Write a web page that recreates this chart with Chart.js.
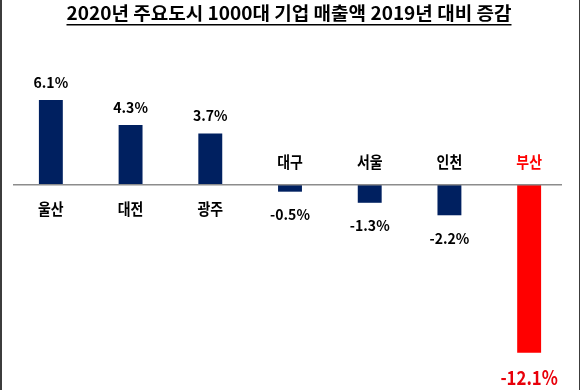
<!DOCTYPE html>
<html>
<head>
<meta charset="utf-8">
<script src="https://cdn.jsdelivr.net/npm/chart.js@4.4.0/dist/chart.umd.min.js"></script>
<style>
html,body{margin:0;padding:0;background:#fff;}
#wrap{width:580px;height:390px;position:relative;}
</style>
</head>
<body>
<div id="wrap"><canvas id="c" width="580" height="390"></canvas></div>
<script>
const titleText = '2020년 주요도시 1000대 기업 매출액 2019년 대비 증감';
const categories = ['울산','대전','광주','대구','서울','인천','부산'];
const values = [6.1, 4.3, 3.7, -0.5, -1.3, -2.2, -12.1];
const valueLabels = ['6.1%','4.3%','3.7%','-0.5%','-1.3%','-2.2%','-12.1%'];
const highlight = '부산';

const NAVY = '#002060';
const RED = '#ff0000';
const FONT = "'Noto Sans CJK KR', 'Noto Sans', sans-serif";

function drawText(ctx, text, x, y, size, color, sx) {
  ctx.save();
  ctx.font = 'bold ' + size + 'px ' + FONT;
  ctx.fillStyle = color;
  ctx.textAlign = 'center';
  ctx.textBaseline = 'middle';
  ctx.translate(x, y);
  ctx.scale(sx, 1);
  ctx.fillText(text, 0, 0);
  ctx.restore();
}

const decor = {
  id: 'decor',
  afterDatasetsDraw(chart) {
    const ctx = chart.ctx;
    const ys = chart.scales.y;
    const zero = ys.getPixelForValue(0);
    // baseline
    ctx.save();
    ctx.strokeStyle = '#8c8c8c';
    ctx.lineWidth = 1.5;
    ctx.beginPath();
    ctx.moveTo(13, zero);
    ctx.lineTo(562, zero);
    ctx.stroke();
    ctx.restore();
    // labels
    const meta = chart.getDatasetMeta(0);
    categories.forEach((cat, i) => {
      const v = values[i];
      const bar = meta.data[i];
      const x = bar.x;
      const isHi = cat === highlight;
      if (v >= 0) {
        drawText(ctx, valueLabels[i], x, bar.y - 17.5, 14.5, '#000', 0.97);
        drawText(ctx, cat, x, zero + 24, 16, '#000', 0.87);
      } else {
        drawText(ctx, cat, x, zero - 23, 16, isHi ? RED : '#000', 0.87);
        if (isHi) drawText(ctx, valueLabels[i], x, bar.y + 25, 19.5, '#e8000a', 0.86);
        else drawText(ctx, valueLabels[i], x, bar.y + 23, 14.5, '#000', 0.97);
      }
    });
    // title
    ctx.save();
    ctx.font = 'bold 18px ' + FONT;
    const w = ctx.measureText(titleText).width;
    const target = 445;
    const sx = target / w;
    ctx.fillStyle = '#000';
    ctx.textAlign = 'center';
    ctx.textBaseline = 'alphabetic';
    ctx.translate(289, 19.5);
    ctx.scale(sx, 1);
    ctx.fillText(titleText, 0, 0);
    ctx.restore();
    ctx.save();
    ctx.fillStyle = '#000';
    ctx.fillRect(66.5, 24, 445, 1.5);
    ctx.restore();
    // frame
    ctx.save();
    ctx.fillStyle = '#3c3c3c';
    ctx.fillRect(0, 0, 2, 390);
    ctx.fillRect(579, 0, 1, 390);
    ctx.restore();
  }
};

new Chart(document.getElementById('c'), {
  type: 'bar',
  data: {
    labels: categories,
    datasets: [{
      data: values,
      backgroundColor: categories.map(c => c === highlight ? RED : NAVY),
      borderWidth: 0,
      categoryPercentage: 1,
      barPercentage: 0.3
    }]
  },
  options: {
    responsive: false,
    animation: false,
    layout: { padding: { left: 11, right: 11, top: 46, bottom: 11 } },
    plugins: { legend: { display: false }, tooltip: { enabled: false }, title: { display: false } },
    scales: {
      x: { display: false },
      y: { display: false, min: -14, max: 10 }
    }
  },
  plugins: [decor]
});
</script>
</body>
</html>
